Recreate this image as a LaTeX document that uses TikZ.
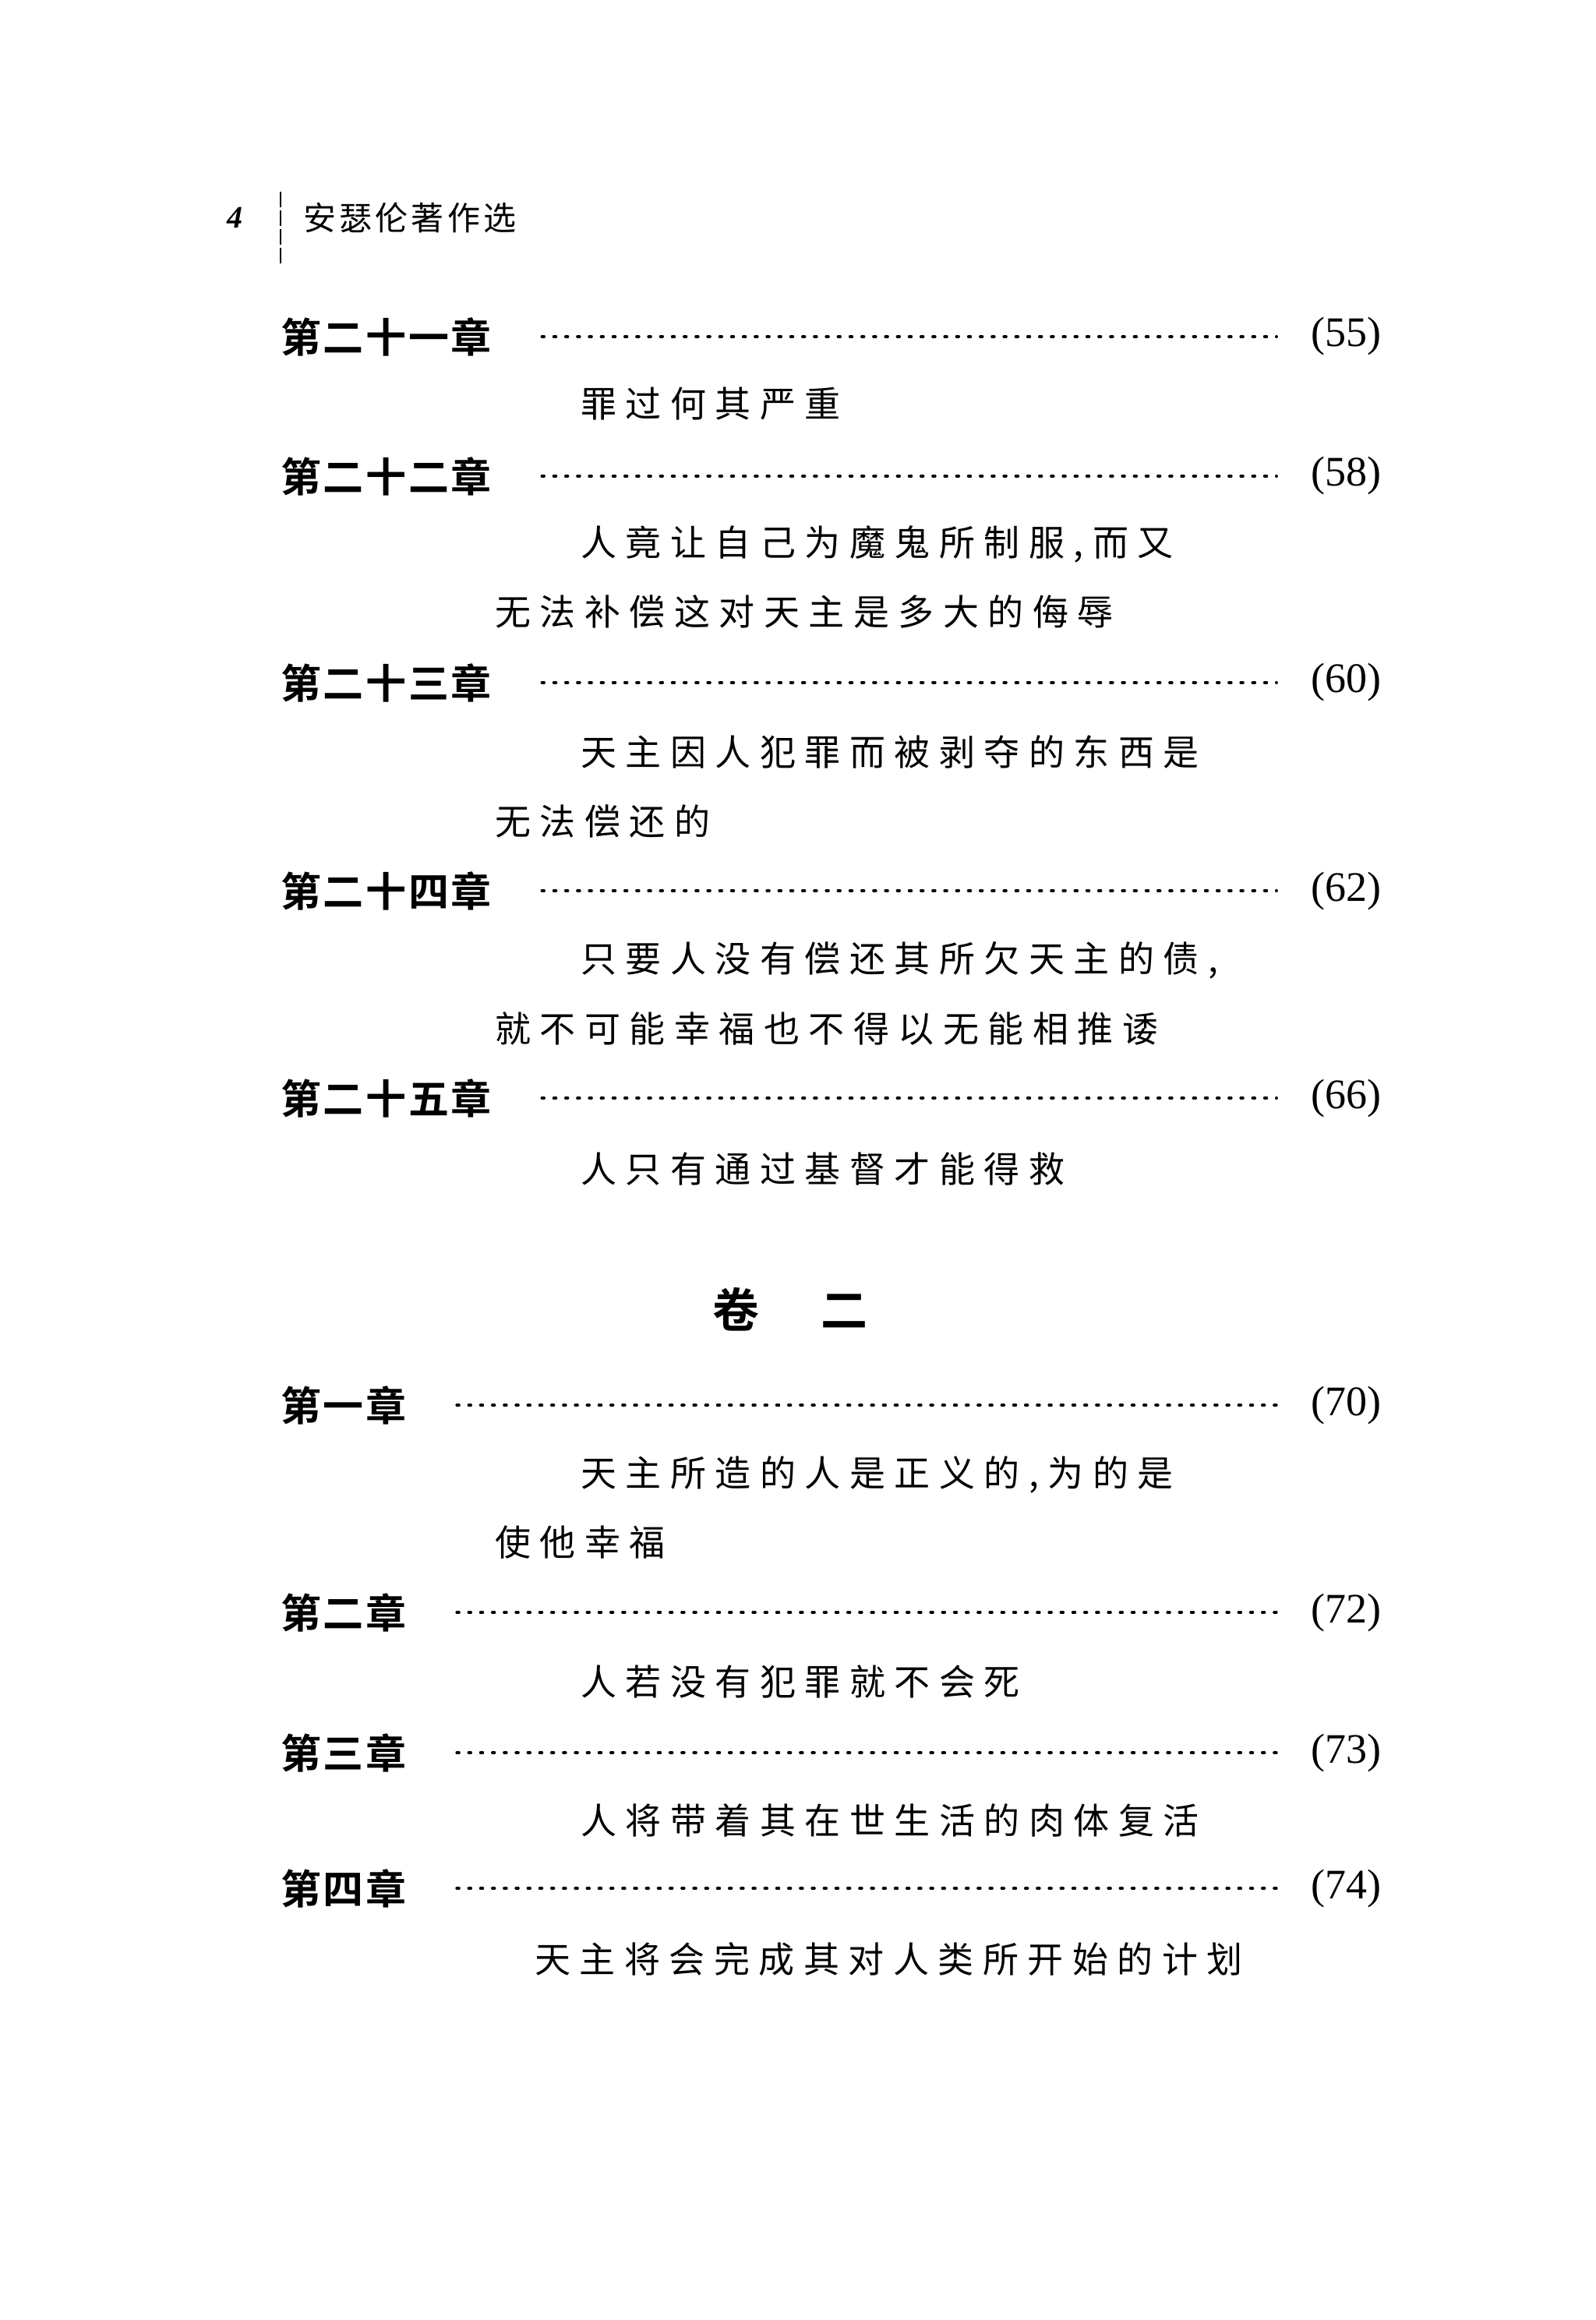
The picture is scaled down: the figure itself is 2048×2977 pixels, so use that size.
\documentclass[tikz,border=0pt]{standalone}
\usepackage{fontspec}
\setmainfont{Liberation Serif}
\newfontfamily\cjk[LetterSpace=25]{Noto Sans CJK SC}
\newfontfamily\cjkh[LetterSpace=10]{Noto Sans CJK SC}
\newfontfamily\cjkb[LetterSpace=5]{Noto Sans CJK SC Bold}
\begin{document}
\begin{tikzpicture}[x=0.5pt,y=-0.5pt,
  chap/.style={anchor=west,inner sep=0,font=\cjkb\fontsize{26}{26}\selectfont},
  ttl/.style={anchor=west,inner sep=0,font=\cjk\fontsize{23}{23}\selectfont},
  num/.style={anchor=east,inner sep=0,font=\fontsize{27}{27}\selectfont},
  dots/.style={line width=1.6pt,dash pattern=on 1.6pt off 6pt,line cap=round}]
\useasboundingbox (0,0) rectangle (2048,2977);
\node[anchor=east,inner sep=0,font=\bfseries\itshape\fontsize{20}{20}\selectfont] (pg) at (312,279) {4};
\node[anchor=west,inner sep=0,font=\cjkh\fontsize{21}{21}\selectfont] (hd) at (389,279) {安瑟伦著作选};
\coordinate (v1) at (360,246); \coordinate (v2) at (360,338);
\draw[line width=0.6pt,dash pattern=on 10pt off 2pt] (v1) -- (v2);
\foreach \n/\lab/\y/\p in {a/第二十一章/432/(55), b/第二十二章/611/(58), c/第二十三章/876/(60), d/第二十四章/1143/(62), e/第二十五章/1409/(66), f/第一章/1803/(70), g/第二章/2069/(72), h/第三章/2249/(73), i/第四章/2423/(74)}{
  \node[chap] (c\n) at (360,\y) {\lab};
  \node[num] (n\n) at (1773,\y) {\p};
  \draw[dots] ([xshift=32]c\n.east) -- ([xshift=-22]n\n.west);
}
\node[ttl] (t1) at (745,518) {罪过何其严重};
\node[ttl] (t2) at (745,698) {人竟让自己为魔鬼所制服,而又};
\node[ttl] (t2b) at (635,785) {无法补偿这对天主是多大的侮辱};
\node[ttl] (t3) at (745,965) {天主因人犯罪而被剥夺的东西是};
\node[ttl] (t3b) at (635,1054) {无法偿还的};
\node[ttl] (t4) at (745,1232) {只要人没有偿还其所欠天主的债,};
\node[ttl] (t4b) at (635,1320) {就不可能幸福也不得以无能相推诿};
\node[ttl] (t5) at (745,1500) {人只有通过基督才能得救};
\node[inner sep=0,font=\cjkb\fontsize{30}{30}\selectfont] (vol) at (1014,1680) {卷\hspace{40pt}二};
\node[ttl] (t6) at (745,1892) {天主所造的人是正义的,为的是};
\node[ttl] (t6b) at (635,1979) {使他幸福};
\node[ttl] (t7) at (745,2158) {人若没有犯罪就不会死};
\node[ttl] (t8) at (745,2336) {人将带着其在世生活的肉体复活};
\node[ttl] (t9) at (686,2514) {天主将会完成其对人类所开始的计划};
\end{tikzpicture}
\end{document}
